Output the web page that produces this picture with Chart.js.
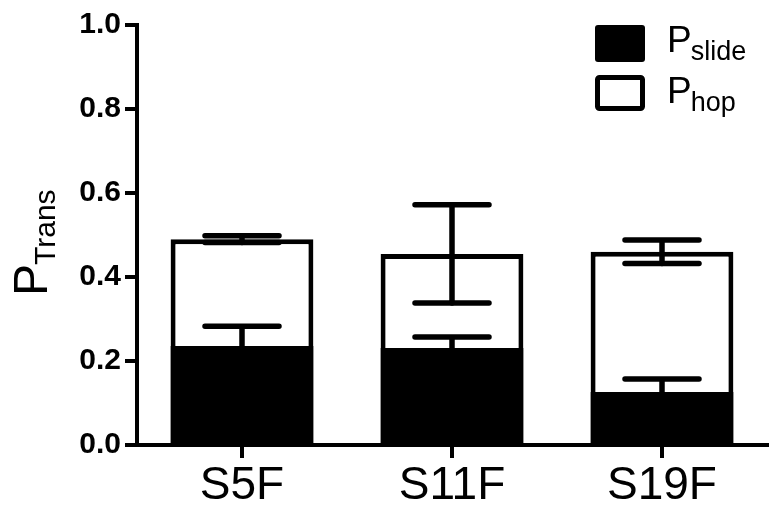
<!DOCTYPE html>
<html>
<head>
<meta charset="utf-8">
<script src="https://cdn.jsdelivr.net/npm/chart.js@4/dist/chart.umd.min.js"></script>
<style>
  html, body { margin: 0; padding: 0; background: #fff; }
  #wrap { width: 783px; height: 516px; }
</style>
</head>
<body>
<div id="wrap"><canvas id="chart" width="783" height="516"></canvas></div>
<script>
// data
const categories = ['S5F', 'S11F', 'S19F'];
const slide = [0.236, 0.231, 0.126];
const hop = [0.254, 0.224, 0.334];
const slideErr = [0.047, 0.026, 0.031];   // drawn upward only
const hopErr = [0.008, 0.117, 0.028];     // drawn both ways
const yTicks = [0, 0.2, 0.4, 0.6, 0.8, 1.0];

const FONT = "'Liberation Sans', Arial, Helvetica, sans-serif";

// error bars on top of the stacked bars
const errorBars = {
  id: 'errorBars',
  afterDatasetsDraw(chart){
    const ctx = chart.ctx;
    const y = chart.scales.y;
    const meta = chart.getDatasetMeta(0);
    const capHalf = 37;
    ctx.save();
    ctx.strokeStyle = '#000';
    ctx.lineWidth = 5.5;
    ctx.lineCap = 'round';
    function bar(x, lo, hi){
      const yl = y.getPixelForValue(lo), yh = y.getPixelForValue(hi);
      ctx.beginPath();
      ctx.moveTo(x, yl); ctx.lineTo(x, yh);
      ctx.moveTo(x - capHalf, yh); ctx.lineTo(x + capHalf, yh);
      ctx.stroke();
    }
    function cap(x, v){
      const yv = y.getPixelForValue(v);
      ctx.beginPath();
      ctx.moveTo(x - capHalf, yv); ctx.lineTo(x + capHalf, yv);
      ctx.stroke();
    }
    categories.forEach((c, i) => {
      const x = meta.data[i].x;
      bar(x, slide[i], slide[i] + slideErr[i]);
      const tot = slide[i] + hop[i];
      bar(x, tot - hopErr[i], tot + hopErr[i]);
      cap(x, tot - hopErr[i]);
    });
    ctx.restore();
  }
};

// y title and legend with subscripts
const labels = {
  id: 'labels',
  afterDraw(chart){
    const ctx = chart.ctx;
    ctx.save();
    ctx.fillStyle = '#000';
    ctx.textBaseline = 'alphabetic';
    ctx.textAlign = 'left';

    // y axis title
    ctx.save();
    ctx.translate(47, 296);
    ctx.rotate(-Math.PI / 2);
    ctx.font = '48px ' + FONT;
    ctx.fillText('P', 0, 0);
    const pw = ctx.measureText('P').width;
    ctx.font = '30px ' + FONT;
    ctx.fillText('Trans', pw - 1, 8);
    ctx.restore();

    // legend
    ctx.fillStyle = '#000';
    ctx.beginPath();
    ctx.roundRect(595, 25, 50, 37, 3);
    ctx.fill();
    ctx.fillStyle = '#fff';
    ctx.strokeStyle = '#000';
    ctx.lineWidth = 5;
    ctx.beginPath();
    ctx.roundRect(597.5, 77.5, 45, 31, 2);
    ctx.fill();
    ctx.stroke();

    ctx.fillStyle = '#000';
    ctx.font = '37px ' + FONT;
    ctx.fillText('P', 667, 52);
    ctx.fillText('P', 667, 103);
    const lw = ctx.measureText('P').width;
    ctx.font = '27px ' + FONT;
    ctx.fillText('slide', 667 + lw - 1, 60);
    ctx.fillText('hop', 667 + lw - 1, 111);
    ctx.restore();
  }
};

new Chart(document.getElementById('chart'), {
  type: 'bar',
  data: {
    labels: categories,
    datasets: [
      { label: 'Pslide', data: slide, backgroundColor: '#000', borderColor: '#000', borderWidth: 0,
        barPercentage: 0.68, categoryPercentage: 1 },
      { label: 'Phop', data: hop, backgroundColor: '#fff', borderColor: '#000', borderWidth: 5,
        borderSkipped: 'bottom', barPercentage: 0.68, categoryPercentage: 1 }
    ]
  },
  plugins: [errorBars, labels],
  options: {
    responsive: false,
    animation: false,
    layout: { padding: { left: 0, right: 16, top: 25, bottom: 0 } },
    plugins: { legend: { display: false }, tooltip: { enabled: false } },
    scales: {
      x: {
        stacked: true,
        afterFit(s){ s.height = 71; },
        border: { display: true, color: '#000', width: 4 },
        grid: { offset: false, drawOnChartArea: false, drawTicks: true, tickLength: 13, color: '#000', lineWidth: 4 },
        ticks: { color: '#000', padding: 1, font: { family: FONT, size: 46 } }
      },
      y: {
        stacked: true,
        min: 0, max: 1,
        afterFit(s){ s.width = 137; },
        afterBuildTicks(s){ s.ticks = yTicks.map(v => ({ value: v })); },
        border: { display: true, color: '#000', width: 4 },
        grid: { drawOnChartArea: false, drawTicks: true, tickLength: 12, color: '#000', lineWidth: 4 },
        ticks: { color: '#000', padding: 4, font: { family: FONT, size: 30, weight: 'bold' },
          callback: v => v.toFixed(1) }
      }
    }
  }
});
</script>
</body>
</html>
